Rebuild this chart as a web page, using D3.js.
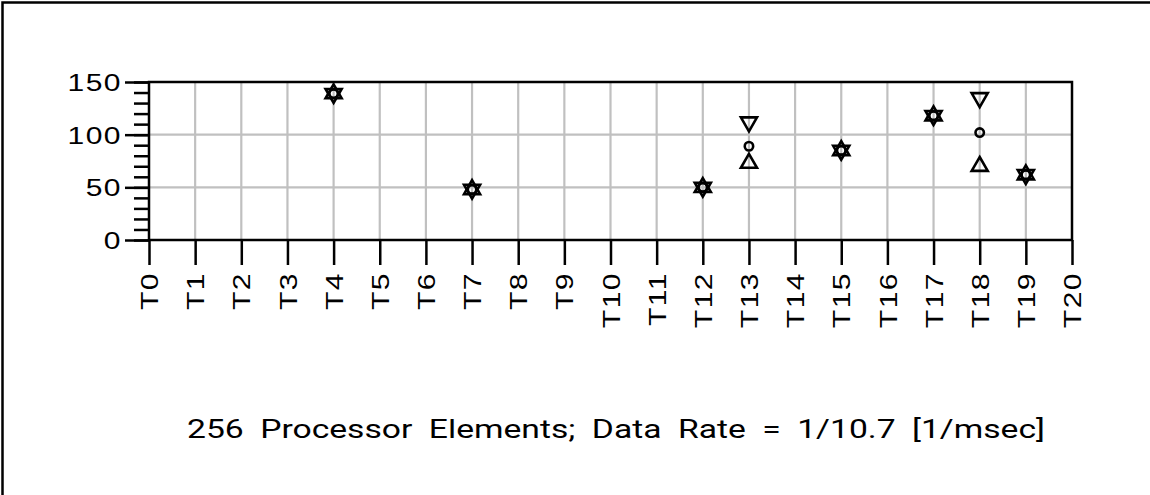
<!DOCTYPE html>
<html>
<head>
<meta charset="utf-8">
<script src="https://cdn.jsdelivr.net/npm/d3@7"></script>
<style>
  body { margin: 0; background: #fff; }
  svg { display: block; }
  .tick text { font-family: "Liberation Sans", Arial, sans-serif; font-size: 24px; fill: #000; letter-spacing: 1.2px; }
</style>
</head>
<body>
<svg width="1150" height="495"></svg>
<script>
// tick labels along the bottom
var categories = ["T0","T1","T2","T3","T4","T5","T6","T7","T8","T9","T10",
	"T11","T12","T13","T14","T15","T16","T17","T18","T19","T20"];
var yTicks = [0, 50, 100, 150];

// categories that carry data, and the three marker series
var pointCats   = ["T4", "T7", "T12", "T13", "T15", "T17", "T18", "T19"];
var highValues  = [139, 48, 50, 112, 85, 118, 135, 62];   // down triangles
var meanValues  = [139, 48, 50, 89, 85, 118, 102, 62];    // circles
var lowValues   = [139, 48, 50, 73, 85, 118, 70, 62];     // up triangles

var title = "256 Processor Elements; Data Rate = 1/10.7 [1/msec]";

var svg = d3.select("svg"),
	plot = {left: 149, right: 1072, top: 82, bottom: 240};

var x = d3.scalePoint().domain(categories).range([plot.left, plot.right]),
	y = d3.scaleLinear().domain([0, 150]).range([plot.bottom, plot.top]);

// outer frame, only top and left edges show
svg.append("path")
	.attr("d", "M2.5,495V2.5H1150")
	.attr("fill", "none")
	.attr("stroke", "#000")
	.attr("stroke-width", 2.5);

// grid
var grid = svg.append("g").attr("stroke", "#c0c0c0").attr("stroke-width", 2.2);
grid.selectAll(".vgrid")
	.data(categories.slice(1, -1))
	.enter().append("line")
	.attr("x1", function(d){ return x(d) }).attr("x2", function(d){ return x(d) })
	.attr("y1", plot.top).attr("y2", plot.bottom);
grid.selectAll(".hgrid")
	.data(yTicks.slice(1, -1))
	.enter().append("line")
	.attr("x1", plot.left).attr("x2", plot.right)
	.attr("y1", function(d){ return y(d) }).attr("y2", function(d){ return y(d) });

// x axis
var gx = svg.append("g")
	.attr("transform", "translate(0," + plot.bottom + ")")
	.call(d3.axisBottom(x).tickSize(25).tickSizeOuter(0));
gx.select(".domain").remove();
gx.selectAll(".tick line").attr("stroke", "#000").attr("stroke-width", 2.5);
gx.selectAll(".tick text")
	.attr("x", 0).attr("y", 0)
	.attr("dy", "0.36em")
	.attr("text-anchor", "end")
	.attr("transform", "translate(0,32) rotate(-90) scale(1.25,1)");

// y axis, minor ticks then major ticks with labels
var gyMinor = svg.append("g")
	.attr("transform", "translate(" + plot.left + ",0)")
	.call(d3.axisLeft(y).tickValues(d3.range(0, 151, 10)).tickSize(15).tickFormat(""));
gyMinor.select(".domain").remove();
gyMinor.selectAll(".tick line").attr("stroke", "#000").attr("stroke-width", 2.5);

var gy = svg.append("g")
	.attr("transform", "translate(" + plot.left + ",0)")
	.call(d3.axisLeft(y).tickValues(yTicks).tickSize(24));
gy.select(".domain").remove();
gy.selectAll(".tick line").attr("stroke", "#000").attr("stroke-width", 2.5);
gy.selectAll(".tick text")
	.attr("x", 0).attr("dy", "0.35em")
	.attr("text-anchor", "end")
	.attr("transform", "translate(-27,0) scale(1.25,1)");

// plot frame
svg.append("rect")
	.attr("x", plot.left).attr("y", plot.top)
	.attr("width", plot.right - plot.left).attr("height", plot.bottom - plot.top)
	.attr("fill", "none")
	.attr("stroke", "#000")
	.attr("stroke-width", 2.5);

// markers
var tri = d3.symbol().type(d3.symbolTriangle).size(112);
var marks = svg.append("g")
	.attr("fill", "none")
	.attr("stroke", "#000")
	.attr("stroke-width", 2.6);

marks.selectAll(".up")
	.data(pointCats)
	.enter().append("path")
	.attr("d", tri)
	.attr("transform", function(d, i){ return "translate(" + x(d) + "," + y(lowValues[i]) + ")" });

marks.selectAll(".down")
	.data(pointCats)
	.enter().append("path")
	.attr("d", tri)
	.attr("transform", function(d, i){ return "translate(" + x(d) + "," + y(highValues[i]) + ") rotate(180)" });

marks.selectAll(".mean")
	.data(pointCats)
	.enter().append("circle")
	.attr("r", 4.2)
	.attr("cx", function(d){ return x(d) })
	.attr("cy", function(d, i){ return y(meanValues[i]) });

// caption
svg.append("text")
	.attr("x", 187).attr("y", 438)
	.attr("textLength", 858)
	.attr("lengthAdjust", "spacingAndGlyphs")
	.style("font-family", "Roboto, sans-serif")
	.style("font-size", "25px")
	.style("word-spacing", "6px")
	.text(title);
</script>
</body>
</html>
